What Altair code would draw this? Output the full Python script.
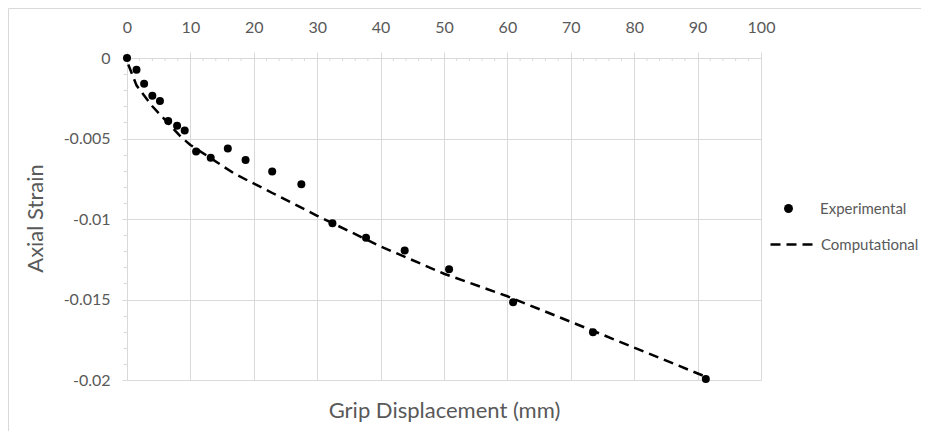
import altair as alt
import pandas as pd

# ---- data ----
exp_x = [0, 1.5, 2.7, 4.0, 5.2, 6.5, 7.9, 9.1, 10.9, 13.2, 15.9, 18.7, 22.9, 27.5,
         32.4, 37.7, 43.8, 50.8, 60.9, 73.5, 91.3]
exp_y = [0, -0.00073, -0.0016, -0.00234, -0.00267, -0.00392, -0.00421, -0.0045,
         -0.00581, -0.0062, -0.00562, -0.00634, -0.00705, -0.00784,
         -0.01026, -0.01116, -0.01196, -0.01312, -0.01517, -0.01704, -0.01994]

comp_x = [0.2, 1.5, 4.0, 8.5, 10.0, 17.0, 23.0, 30.0, 40.0, 50.0, 60.0, 72.6, 91.3]
comp_y = [-0.0004, -0.0017, -0.003, -0.0049, -0.0054, -0.0072, -0.0084, -0.0098,
          -0.0117, -0.0134, -0.0148, -0.0168, -0.0198]

x_major = list(range(0, 101, 10))
x_minor = [v for v in range(0, 101, 2) if v % 10 != 0]
y_ticks = [0.0] + [round(-0.001 * k, 3) for k in range(1, 21)]

series_names = ["Experimental", "Computational"]

FONT = "Lato"
TXT = "#595959"
GRID = "#d9d9d9"

exp_df = pd.DataFrame({"x": exp_x, "y": exp_y, "series": series_names[0]})
comp_df = pd.DataFrame({"x": comp_x, "y": comp_y, "series": series_names[1]})
minor_df = pd.DataFrame({"x": x_minor})

x_scale = alt.Scale(domain=[0, 100], nice=False, zero=False)
y_scale = alt.Scale(domain=[-0.02, 0], nice=False, zero=False)

x_axis = alt.Axis(
    orient="top", values=x_major, tickCount=50, tickSize=6,
    labelExpr="'' + datum.value",
    labelPadding=17, labelFlush=False, labelOverlap=False,
    title="Grip Displacement (mm)", titleY=352, titleBaseline="middle",
    titleFontSize=22, titleFontWeight="normal", titleColor=TXT,
)
y_axis = alt.Axis(
    orient="left", values=y_ticks, tickCount=200,
    labelExpr="round(datum.value*1000) % 5 === 0 ? '' + datum.value : ''",
    gridOpacity={"condition": {"test": "round(datum.value*1000) % 5 === 0", "value": 1}, "value": 0},
    tickSize={"condition": {"test": "round(datum.value*1000) % 5 !== 0", "value": 4}, "value": 5},
    labelPadding=12, labelOverlap=False, labelFlush=False,
    title="Axial Strain", titleX=-92, titleY=160, titleAngle=270,
    titleAlign="center", titleBaseline="middle",
    titleFontSize=22, titleFontWeight="normal", titleColor=TXT,
)

minor_ticks = alt.Chart(minor_df).mark_rule(color=GRID, strokeWidth=1).encode(
    x=alt.X("x:Q", scale=x_scale),
    y=alt.value(0), y2=alt.value(3),
)

line = alt.Chart(comp_df).mark_line(color="black", strokeWidth=2.5).encode(
    x=alt.X("x:Q", scale=x_scale, axis=x_axis),
    y=alt.Y("y:Q", scale=y_scale, axis=y_axis),
    strokeDash=alt.StrokeDash(
        "series:N",
        scale=alt.Scale(domain=[series_names[1]], range=[[10, 6]]),
        legend=alt.Legend(title=None, orient="none", legendX=642, legendY=164,
                          symbolSize=1764, symbolStrokeWidth=2.5,
                          symbolStrokeColor="black", labelOffset=7),
    ),
)

points = alt.Chart(exp_df).mark_point(filled=True, size=64, opacity=1).encode(
    x=alt.X("x:Q", scale=x_scale),
    y=alt.Y("y:Q", scale=y_scale),
    color=alt.Color(
        "series:N",
        scale=alt.Scale(domain=[series_names[0]], range=["black"]),
        legend=alt.Legend(title=None, orient="none", legendX=654, legendY=143,
                          symbolType="circle", symbolSize=80, symbolOpacity=1,
                          labelOffset=24),
    ),
)

frame = alt.Chart(pd.DataFrame({"a": [0]})).mark_rect(
    fillOpacity=0, stroke=GRID, strokeWidth=1
).encode(
    x=alt.value(-118.5), x2=alt.value(840), y=alt.value(-49.5), y2=alt.value(420)
)

chart = alt.layer(frame, minor_ticks, line, points).resolve_scale(
    color="independent", strokeDash="independent"
).properties(
    width=634, height=322,
    autosize=alt.AutoSizeParams(type="none"),
    padding={"left": 119, "top": 50, "right": 160, "bottom": 51},
).configure_view(stroke=None).configure_axis(
    domainColor=GRID, tickColor=GRID, gridColor=GRID,
    labelColor=TXT, labelFont=FONT, labelFontSize=16,
    titleFont=FONT,
).configure_legend(
    labelFont=FONT, labelFontSize=15, labelColor=TXT, padding=0,
)

chart.save("out.html", embed_options={"renderer": "svg", "actions": False})
